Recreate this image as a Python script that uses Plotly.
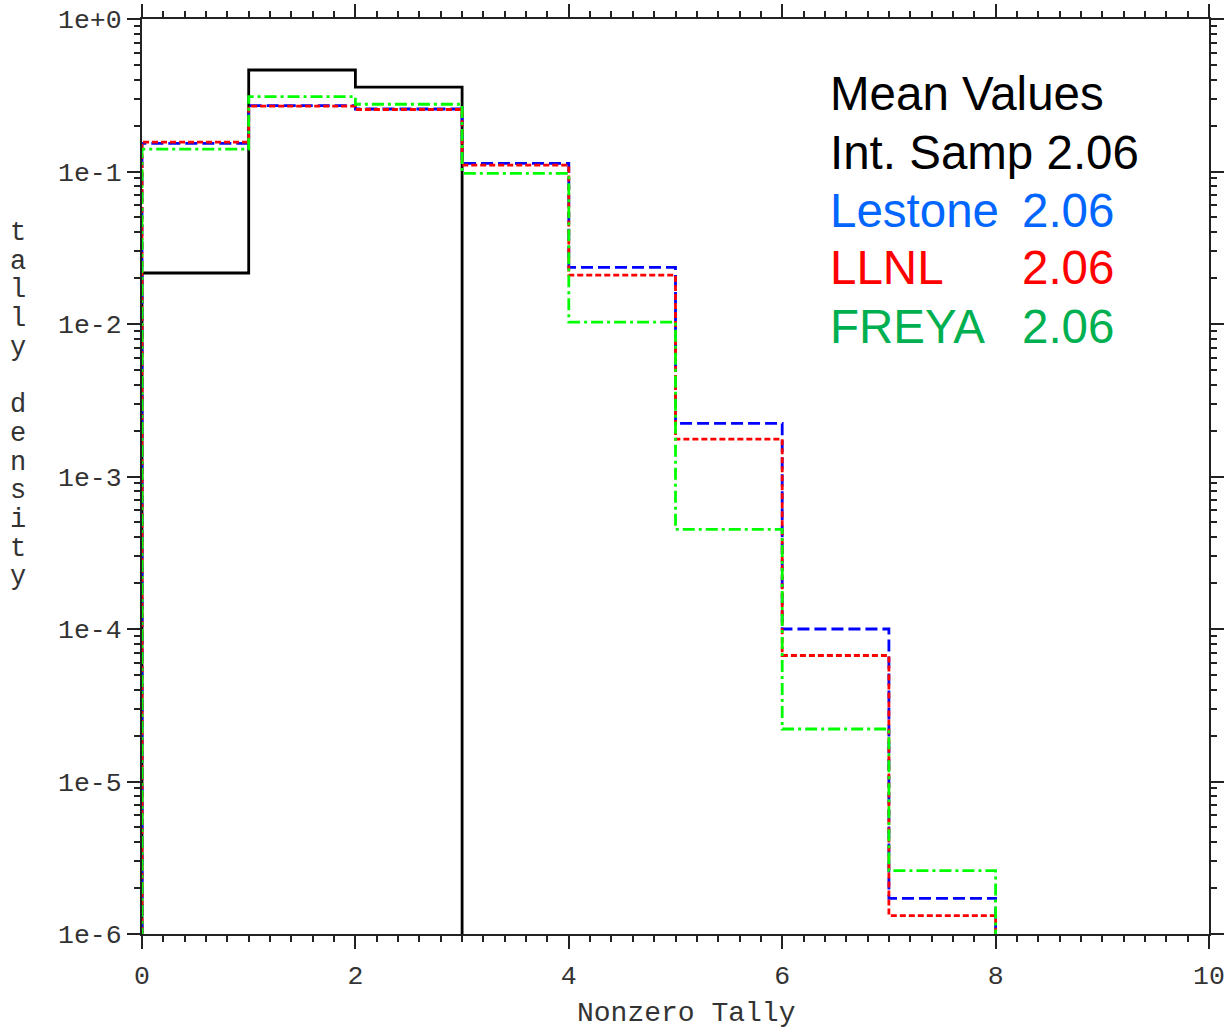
import plotly.graph_objects as go

# ---- data ----
bin_edges = [0, 1, 2, 3, 4, 5, 6, 7, 8]
int_samp = [0.0216, 0.463, 0.358, 0, 0, 0, 0, 0]
lestone = [0.153, 0.270, 0.257, 0.113, 0.0235, 0.00223, 1.0e-4, 1.71e-6]
llnl = [0.156, 0.268, 0.255, 0.110, 0.0209, 0.00176, 6.7e-5, 1.32e-6]
freya = [0.140, 0.310, 0.276, 0.0973, 0.0103, 4.5e-4, 2.21e-5, 2.6e-6]

ytick_vals = [1, 1e-1, 1e-2, 1e-3, 1e-4, 1e-5, 1e-6]
ytick_text = ["1e+0", "1e-1", "1e-2", "1e-3", "1e-4", "1e-5", "1e-6"]
xtick_vals = [0, 2, 4, 6, 8, 10]

legend_lines = [
    ("Mean Values", "", "#000000"),
    ("Int. Samp 2.06", "", "#000000"),
    ("Lestone", "2.06", "#0066FF"),
    ("LLNL", "2.06", "#FF0000"),
    ("FREYA", "2.06", "#00B050"),
]
ylabel = "tally density"
xlabel = "Nonzero Tally"

FLOOR = 1e-8


def steps(values):
    xs = [bin_edges[0]]
    ys = [FLOOR]
    for i, v in enumerate(values):
        xs.append(bin_edges[i])
        ys.append(v if v > 0 else FLOOR)
    xs.append(bin_edges[len(values)])
    ys.append(FLOOR)
    return xs, ys


fig = go.Figure()
series = [
    (int_samp, "#000000", "solid"),
    (lestone, "#0000FF", "12px,5px"),
    (llnl, "#FF0000", "6px,3px"),
    (freya, "#00FF00", "12px,4px,3px,4px"),
]
for vals, col, dash in series:
    xs, ys = steps(vals)
    fig.add_trace(go.Scatter(x=xs, y=ys, mode="lines", line_shape="hv",
                             line=dict(color=col, width=2.8, dash=dash),
                             showlegend=False, hoverinfo="skip"))

L, R, T, B = 142, 15, 19, 94
W, H = 1224, 1028
pw, ph = W - L - R, H - T - B

mono = "Liberation Mono, Courier New, monospace"
tcol = "#333333"
fig.update_layout(
    width=W, height=H,
    margin=dict(l=L, r=R, t=T, b=B, pad=0, autoexpand=False),
    paper_bgcolor="white", plot_bgcolor="white",
    font=dict(family=mono, size=26.5, color=tcol),
    xaxis=dict(range=[0, 10], tickvals=xtick_vals, ticks="outside", ticklen=13,
               tickwidth=2, tickcolor="#222", showline=True, linewidth=2,
               linecolor="#222", mirror="ticks", showgrid=False, zeroline=False,
               layer="below traces", automargin=False, ticklabelstandoff=3,
               ticklabeloverflow="allow",
               minor=dict(ticks="outside", dtick=0.2, ticklen=6, tickwidth=2,
                          tickcolor="#222", showgrid=False)),
    yaxis=dict(type="log", range=[-6, 0], tickvals=ytick_vals, ticktext=ytick_text,
               ticks="outside", ticklen=13, tickwidth=2, tickcolor="#222",
               showline=True, linewidth=2, linecolor="#222", mirror="ticks",
               showgrid=False, zeroline=False, layer="below traces", automargin=False,
               ticklabeloverflow="allow",
               minor=dict(ticks="outside", dtick="D1", ticklen=6, tickwidth=2,
                          tickcolor="#222", showgrid=False)),
)


def px_to_paper(xp, yp):
    return (xp - L) / pw, (T + ph - yp) / ph


# x-axis title
xpp, ypp = px_to_paper(686, 1013)
fig.add_annotation(x=xpp, y=ypp, xref="paper", yref="paper", text=xlabel,
                   showarrow=False, xanchor="center", yanchor="middle",
                   font=dict(family=mono, size=28, color=tcol))

# stacked y-axis label letters
for i, ch in enumerate(ylabel):
    if ch == " ":
        continue
    xpp, ypp = px_to_paper(18, 233 + i * 28.7)
    fig.add_annotation(x=xpp, y=ypp, xref="paper", yref="paper", text=ch,
                       showarrow=False, xanchor="center", yanchor="middle",
                       font=dict(family=mono, size=27, color=tcol))

# text block
sans = "Arial, Liberation Sans, sans-serif"
for i, (name, val, col) in enumerate(legend_lines):
    yc = 94 + i * 58
    xpp, ypp = px_to_paper(828, yc)
    fig.add_annotation(x=xpp, y=ypp, xref="paper", yref="paper", text=name,
                       showarrow=False, xanchor="left", yanchor="middle",
                       font=dict(family=sans, size=47.5, color=col))
    if val:
        xpp2, _ = px_to_paper(1020, yc)
        fig.add_annotation(x=xpp2, y=ypp, xref="paper", yref="paper", text=val,
                           showarrow=False, xanchor="left", yanchor="middle",
                           font=dict(family=sans, size=47.5, color=col))

fig.write_html("out.html")
